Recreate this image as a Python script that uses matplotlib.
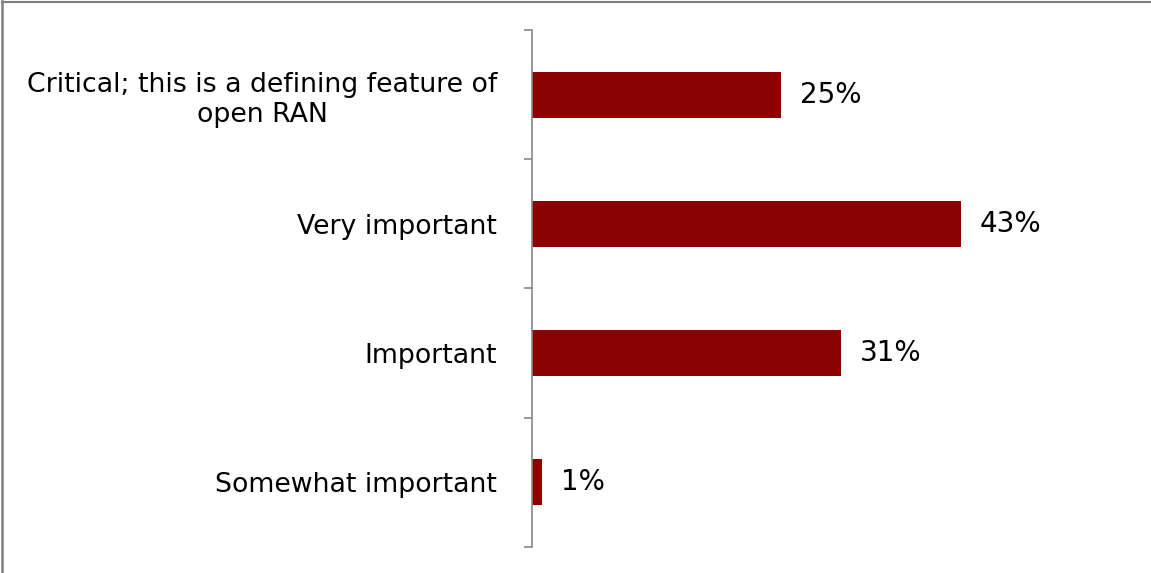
import matplotlib.pyplot as plt
from matplotlib.lines import Line2D

plt.rcParams["font.family"] = "DejaVu Sans"

categories = ["Critical; this is a defining feature of\nopen RAN",
              "Very important",
              "Important",
              "Somewhat important"]
values = [25, 43, 31, 1]

fig = plt.figure(figsize=(11.51, 5.73), dpi=100)
ax = fig.add_axes([0.4622, 0.0454, 0.5195, 0.9023])

pos = list(range(len(categories)))[::-1]
ax.barh(pos, values, height=0.355, color="#8B0000")
for p, v in zip(pos, values):
    ax.text(v + 1.9, p, "%d%%" % v, va="center", ha="left", fontsize=20)

ax.set_xlim(0, 60)
ax.set_ylim(-0.5, len(categories) - 0.5)
ax.set_yticks(pos)
ax.set_yticklabels(categories, fontsize=19.3, multialignment="center", linespacing=1.2)
# tick marks sit between the categories
ax.set_yticks([i - 0.5 for i in range(len(categories) + 1)], minor=True)
ax.tick_params(axis="y", which="major", length=0, pad=25)
ax.tick_params(axis="y", which="minor", length=6, color="#888888", width=1.2)
ax.set_xticks([])
for s in ["top", "right", "bottom"]:
    ax.spines[s].set_visible(False)
ax.spines["left"].set_color("#888888")
ax.spines["left"].set_linewidth(1.2)

# outer frame on left and top
fig.add_artist(Line2D([0.002, 0.002], [0, 0.998], transform=fig.transFigure, color="#808080", lw=1.8))
fig.add_artist(Line2D([0.002, 1], [0.997, 0.997], transform=fig.transFigure, color="#808080", lw=1.5))

fig.savefig("out.png", dpi=100)
